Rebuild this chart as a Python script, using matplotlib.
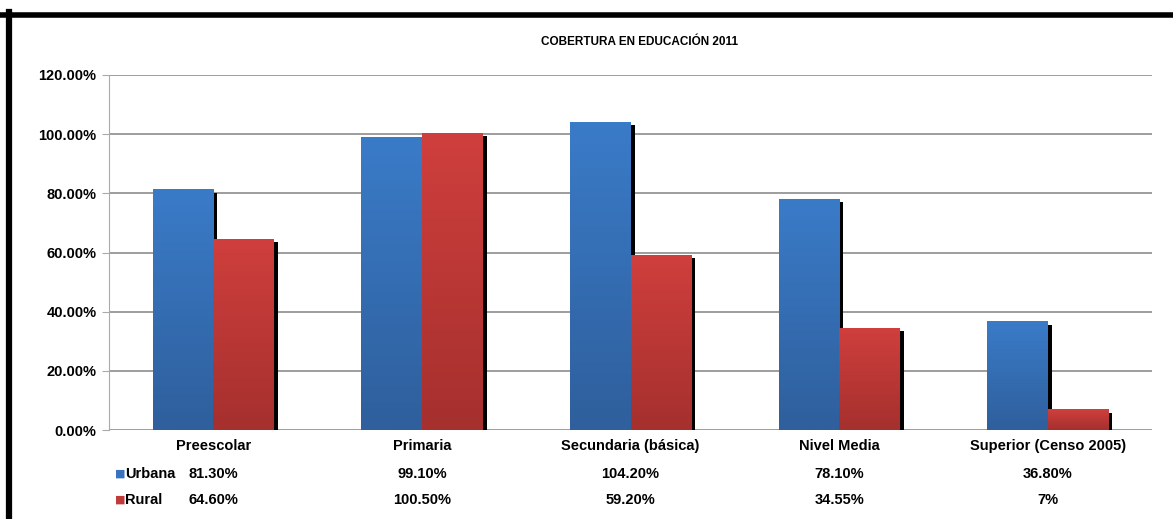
import numpy as np
import matplotlib
matplotlib.use('Agg')
import matplotlib.pyplot as plt
import matplotlib.patheffects as pe
import matplotlib.transforms as mtrans
from matplotlib.colors import LinearSegmentedColormap
from matplotlib.lines import Line2D

categories = ['Preescolar', 'Primaria', 'Secundaria (básica)', 'Nivel Media', 'Superior (Censo 2005)']
urbana = [81.30, 99.10, 104.20, 78.10, 36.80]
rural = [64.60, 100.50, 59.20, 34.55, 7.0]
urbana_txt = ['81.30%', '99.10%', '104.20%', '78.10%', '36.80%']
rural_txt = ['64.60%', '100.50%', '59.20%', '34.55%', '7%']
yticks = [0, 20, 40, 60, 80, 100, 120]

plt.rcParams['font.family'] = ['Liberation Sans', 'DejaVu Sans']
fs = 10.5

fig = plt.figure(figsize=(11.73, 5.19), dpi=100)
ax = fig.add_axes([109/1173, 1-430/519, (1152-109)/1173, 355/519])

x = np.arange(len(categories))
w = 0.29
shadow = [pe.SimplePatchShadow(offset=(3, -2.5), shadow_rgbFace='black', alpha=1.0), pe.Normal()]
blue_cm = LinearSegmentedColormap.from_list('b', ['#2f5f9c', '#3a7bc8'])
red_cm = LinearSegmentedColormap.from_list('r', ['#a5302e', '#cf3f3d'])
grad = np.linspace(0, 1, 100).reshape(-1, 1)

def gradient_bars(xs, vals, color, cmap):
    bars = ax.bar(xs, vals, w, color=color, zorder=3, path_effects=shadow)
    for b in bars:
        x0, h = b.get_x(), b.get_height()
        im = ax.imshow(grad, cmap=cmap, origin='lower', aspect='auto',
                       extent=(x0, x0 + b.get_width(), 0, h), zorder=3.5)
        im.set_clip_path(b)

gradient_bars(x - w/2, urbana, '#3468b0', blue_cm)
gradient_bars(x + w/2, rural, '#b83836', red_cm)

ax.set_xlim(-0.5, len(categories) - 0.5)
ax.set_ylim(0, 120)
ax.set_yticks(yticks)
ax.set_yticklabels(['%.2f%%' % v for v in yticks], fontsize=fs, fontweight='bold')
ax.yaxis.grid(True, color='#8c8c8c', linewidth=1.2)
ax.set_axisbelow(True)
ax.tick_params(axis='y', length=5, color='#aaaaaa', pad=4)
ax.set_xticks([])
for s in ['top', 'right', 'bottom']:
    ax.spines[s].set_visible(False)
ax.spines['left'].set_color('#aaaaaa')

# data table under the chart
tr = mtrans.blended_transform_factory(ax.transData, ax.transAxes)
for i in range(len(categories)):
    ax.text(x[i], -0.045, categories[i], transform=tr, ha='center', va='center', fontsize=fs, fontweight='bold')
    ax.text(x[i], -0.125, urbana_txt[i], transform=tr, ha='center', va='center', fontsize=fs, fontweight='bold')
    ax.text(x[i], -0.198, rural_txt[i], transform=tr, ha='center', va='center', fontsize=fs, fontweight='bold')

fig.text(115/1173, 1-474/519, '■', color='#3a72bf', fontsize=8, va='center', family='DejaVu Sans')
fig.text(125/1173, 1-474/519, 'Urbana', fontsize=fs, fontweight='bold', va='center')
fig.text(115/1173, 1-500/519, '■', color='#bf3a38', fontsize=8, va='center', family='DejaVu Sans')
fig.text(125/1173, 1-500/519, 'Rural', fontsize=fs, fontweight='bold', va='center')

fig.text(640/1173, 1-42/519, 'COBERTURA EN EDUCACIÓN 2011', ha='center', va='center', fontsize=8.5, fontweight='bold')

# black frame edges
fig.add_artist(Line2D([0, 1], [1-14.5/519, 1-14.5/519], color='black', linewidth=4, transform=fig.transFigure))
fig.add_artist(Line2D([9/1173, 9/1173], [0, 1-12/519], color='black', linewidth=4.5, transform=fig.transFigure))

fig.savefig('out.png', dpi=100)
